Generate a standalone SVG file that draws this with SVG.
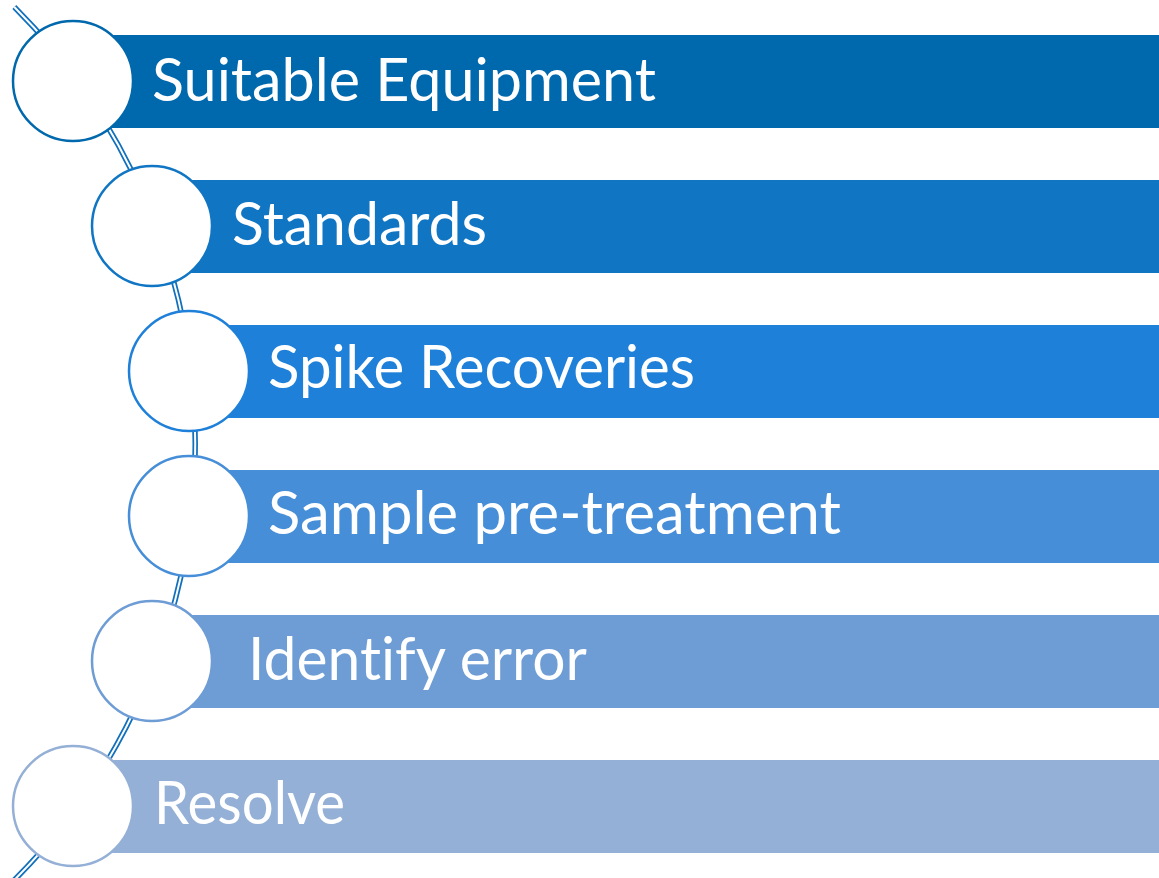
<svg xmlns="http://www.w3.org/2000/svg" width="1159" height="878" viewBox="0 0 1159 878">
<style>
.lbl{font-family:"Lato","Open Sans","Liberation Sans",sans-serif;font-size:60px;fill:#ffffff;font-variant-ligatures:none;font-feature-settings:"liga" 0;}
.node circle{fill:#ffffff;stroke-width:2.5;}
</style>
<rect width="1159" height="878" fill="#ffffff"/>
<g id="connectors">
<path d="M 14.3 7 A 617 617 0 0 1 14.3 880" fill="none" stroke="#1170BC" stroke-width="5.5"/>
<path d="M 14.3 7 A 617 617 0 0 1 14.3 880" fill="none" stroke="#ffffff" stroke-width="2"/>
</g>
<g id="node1" class="node">
<rect x="73" y="35" width="1086" height="93" fill="#0068AC"/>
<circle cx="73" cy="81" r="60" stroke="#0068AC"/>
<text class="lbl" x="152" y="101" textLength="504" lengthAdjust="spacingAndGlyphs">Suitable Equipment</text>
</g>
<g id="node2" class="node">
<rect x="152" y="180" width="1007" height="93" fill="#1076C4"/>
<circle cx="152" cy="226" r="60" stroke="#1076C4"/>
<text class="lbl" x="232" y="245" textLength="255" lengthAdjust="spacingAndGlyphs">Standards</text>
</g>
<g id="node3" class="node">
<rect x="189" y="325" width="970" height="93" fill="#1E80D9"/>
<circle cx="189" cy="371" r="60" stroke="#1E80D9"/>
<text class="lbl" x="268" y="388" textLength="427" lengthAdjust="spacingAndGlyphs">Spike Recoveries</text>
</g>
<g id="node4" class="node">
<rect x="189" y="470" width="970" height="93" fill="#468ED8"/>
<circle cx="189" cy="516" r="60" stroke="#468ED8"/>
<text class="lbl" x="268" y="534" textLength="573" lengthAdjust="spacingAndGlyphs">Sample pre-treatment</text>
</g>
<g id="node5" class="node">
<rect x="152" y="615" width="1007" height="93" fill="#6E9CD5"/>
<circle cx="152" cy="661" r="60" stroke="#6E9CD5"/>
<text class="lbl" x="248" y="680" textLength="339" lengthAdjust="spacingAndGlyphs">Identify error</text>
</g>
<g id="node6" class="node">
<rect x="73" y="760" width="1086" height="93" fill="#95B0D6"/>
<circle cx="73" cy="806" r="60" stroke="#95B0D6"/>
<text class="lbl" x="154" y="824" textLength="191" lengthAdjust="spacingAndGlyphs">Resolve</text>
</g>
</svg>
